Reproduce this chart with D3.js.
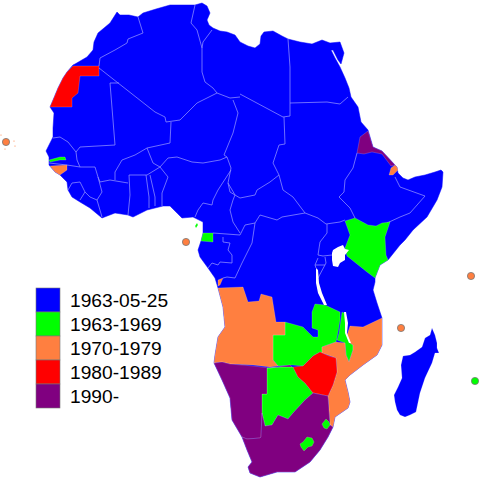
<!DOCTYPE html>
<html>
<head>
<meta charset="utf-8">
<script src="https://cdn.jsdelivr.net/npm/d3@7"></script>
<style>
html, body { margin: 0; padding: 0; background: #fff; }
svg { display: block; }
</style>
</head>
<body>
<svg id="map" width="480" height="480"></svg>
<script>
// legend
var periods = ["1963-05-25", "1963-1969", "1970-1979", "1980-1989", "1990-"];
var periodColors = ["#0000ff", "#00ff00", "#ff7f40", "#ff0000", "#800080"];

// outlines, in map grid units
var coastline = [[117,12],[120,15],[129,15],[138,17],[143,13],[156,9],[170,5],[185,5],[195,5],[202,3],[207,6],[210,13],[207,20],[209,25],[213,28],[220,31],[227,32],[235,35],[240,42],[248,46],[255,48],[260,44],[261,36],[264,32],[273,31],[282,36],[288,39],[300,42],[312,44],[322,40],[330,43],[340,42],[344,53],[341,64],[338,60],[333,50],[331,50],[335,58],[340,67],[345,78],[349,88],[351,97],[358,107],[361,122],[368,130],[373,147],[382,151],[395,165],[397,167],[398,173],[403,178],[408,180],[415,177],[425,175],[435,172],[441,170],[443,172],[442,187],[437,200],[427,217],[413,230],[405,240],[400,245],[388,260],[380,265],[375,278],[375,282],[373,290],[377,303],[382,318],[382,345],[377,355],[363,365],[350,375],[345,380],[348,392],[350,402],[348,408],[335,417],[333,427],[328,437],[320,450],[310,462],[295,472],[277,472],[260,477],[250,473],[248,467],[252,462],[247,450],[242,437],[232,420],[230,398],[222,380],[214,363],[215,355],[218,337],[225,327],[223,307],[218,288],[215,278],[208,268],[200,257],[198,250],[201,241],[203,233],[203,222],[193,217],[182,218],[177,213],[170,206],[163,206],[147,210],[133,217],[128,215],[115,213],[102,218],[96,213],[90,208],[80,202],[72,197],[68,190],[67,182],[60,175],[55,172],[49,165],[49,157],[46,151],[50,143],[53,137],[53,128],[54,113],[50,107],[53,100],[58,88],[63,78],[67,72],[73,65],[75,64],[87,57],[93,50],[94,42],[98,33],[110,23]];
var madagascar = [[432,328],[435,335],[437,343],[437,348],[439,353],[435,353],[432,363],[425,378],[420,393],[416,412],[410,415],[405,417],[400,415],[397,410],[395,402],[394,395],[398,387],[402,378],[401,365],[403,356],[410,355],[415,352],[422,347],[425,338],[430,335]];

var westernSahara = [[73,66],[99,66],[99,76],[80,76],[78,93],[72,98],[72,107],[50,107],[53,100],[58,88],[63,78],[67,72]];
var zimbabwe = [[293,367],[303,366],[313,356],[320,352],[329,356],[336,358],[337,372],[333,385],[328,396],[318,394],[313,393],[305,383],[298,377]];
var kenya = [[345,221],[355,218],[368,225],[376,226],[382,223],[390,222],[385,237],[386,255],[388,260],[380,265],[375,278],[367,272],[347,256],[345,248],[350,235]];
var zambia = [[285,322],[303,327],[313,337],[318,337],[318,330],[312,328],[312,312],[315,304],[325,305],[340,312],[340,320],[338,332],[336,342],[322,347],[322,353],[320,352],[313,356],[303,366],[292,365],[278,366],[273,360],[273,335],[285,335]];
var malawi = [[342,312],[344,313],[347,323],[346,333],[350,343],[353,345],[353,350],[349,362],[346,355],[345,343],[337,340],[339,333]];
var botswana = [[267,368],[281,367],[293,367],[298,377],[305,383],[313,393],[305,400],[293,413],[288,419],[278,415],[272,425],[265,426],[262,413],[262,394],[267,394]];
var lesotho = [[307,437],[312,438],[314,442],[312,446],[308,447],[304,451],[301,447],[300,444],[303,442]];
var swaziland = [[326,419],[329,422],[330,425],[327,429],[324,428],[322,424]];
var eqGuinea = [[203,233],[213,233],[213,242],[201,241]];
var bioko = [[197,223],[198,225],[196,228],[195,226]];
var gambia = [[49,160],[60,157],[65,157],[66,160],[60,160],[50,162]];
var angola = [[218,288],[243,287],[248,302],[259,301],[261,294],[272,297],[276,322],[285,322],[285,335],[273,335],[273,360],[278,366],[270,367],[253,365],[230,364],[222,362],[214,363],[215,355],[218,337],[225,327],[223,307]];
var cabinda = [[218,280],[223,278],[220,285],[218,286]];
var mozambique = [[382,318],[382,345],[377,355],[363,365],[350,375],[345,380],[348,392],[350,402],[348,408],[335,417],[333,427],[330,425],[329,410],[328,396],[333,385],[337,372],[336,358],[322,353],[322,347],[336,342],[345,343],[346,355],[349,362],[353,350],[353,345],[350,343],[347,335],[350,326],[363,327]];
var guineaBissau = [[50,166],[67,165],[67,170],[60,175],[55,172]];
var djibouti = [[395,165],[397,167],[398,170],[393,175],[389,175],[391,168]];
var eritrea = [[368,131],[373,147],[382,151],[395,165],[391,166],[382,154],[372,152],[364,154],[357,153],[360,137]];
var namibia = [[214,363],[222,362],[230,364],[253,366],[270,368],[290,365],[292,367],[281,367],[267,368],[267,394],[262,394],[262,413],[261,437],[260,438],[247,439],[242,437],[232,420],[230,398],[222,380]];
var southAfrica = [[262,413],[265,426],[272,425],[278,415],[288,419],[293,413],[305,400],[313,393],[328,396],[329,410],[330,425],[333,427],[328,437],[320,450],[310,462],[295,472],[277,472],[260,477],[250,473],[248,467],[252,462],[247,450],[242,437],[247,439],[260,438],[261,437]];

// member countries drawn over the blue continent, with their period index
var memberShapes = [
  [madagascar, 0], [kenya, 1], [zambia, 1], [malawi, 1], [botswana, 1], [eqGuinea, 1], [bioko, 1], [gambia, 1],
  [angola, 2], [cabinda, 2], [mozambique, 2], [guineaBissau, 2], [djibouti, 2],
  [westernSahara, 3], [zimbabwe, 3],
  [eritrea, 4], [namibia, 4], [southAfrica, 4],
  [lesotho, 1], [swaziland, 1]
];

// small island states shown as dots
var islands = [[6,142,2], [186,242,2], [401,328,2], [471,276,2], [475,381,1]];
var capeVerdeSpecks = [[1,135],[14,141],[5,149],[15,146]];

var lakes = [
  [[332,253],[333,250],[338,247],[343,245],[345,249],[349,250],[345,255],[345,260],[340,263],[338,267],[333,266],[332,260]],
  [[316,268],[318,270],[319,283],[322,293],[327,305],[324,305],[318,293],[316,283]],
  [[344,312],[346,312],[348,323],[347,333],[351,343],[349,343],[345,333],[345,323]]
];

var borders = [
  [[138,17],[143,33],[128,39],[127,43],[115,50],[100,58],[99,66]],
  [[99,68],[155,112],[165,117],[166,122],[180,120],[197,103],[217,93],[230,98],[240,97]],
  [[195,5],[191,23],[197,30],[202,48],[202,72],[205,82],[213,88],[217,93]],
  [[212,30],[203,42],[202,48]],
  [[119,83],[110,83],[115,145],[80,147],[76,152],[68,142],[60,137],[53,138]],
  [[171,122],[170,143],[147,148],[135,155],[122,160],[115,172],[115,180]],
  [[76,152],[77,160],[80,167],[95,167],[98,177],[100,182],[110,180],[128,183]],
  [[49,163],[67,165],[80,167]],
  [[98,177],[102,192],[97,200],[102,217]],
  [[97,200],[90,197],[85,192],[80,200]],
  [[68,190],[72,183],[80,182],[85,192]],
  [[147,148],[153,163],[160,167],[147,175],[129,175],[130,195],[128,215]],
  [[146,175],[149,197],[149,208]],
  [[150,175],[155,197],[155,206]],
  [[160,167],[168,177],[162,193],[162,206]],
  [[160,167],[168,158],[177,157],[192,162],[203,163],[220,160],[227,157]],
  [[233,100],[238,113],[233,133],[224,155],[227,157],[231,168],[228,183],[235,195],[233,200],[230,210],[233,222],[240,233]],
  [[231,170],[218,190],[213,200],[212,205],[203,203],[198,210],[195,217]],
  [[213,233],[240,235],[245,225],[255,223]],
  [[223,237],[223,242],[230,243],[228,250],[232,255],[232,263],[220,262],[218,265],[212,263],[208,268]],
  [[255,223],[252,243],[242,263],[235,278],[227,277],[223,278]],
  [[240,94],[283,117],[290,116],[290,103]],
  [[288,39],[290,67],[290,103],[327,102],[340,104],[348,97]],
  [[284,117],[285,144],[279,145],[273,163],[279,175],[283,190],[293,197],[305,213],[318,218],[326,224],[340,222],[345,220]],
  [[279,175],[270,182],[257,190],[255,195],[240,198],[230,192],[228,183]],
  [[255,223],[260,215],[277,220],[282,217],[305,213]],
  [[327,224],[327,233],[320,242],[318,255],[323,256],[332,255]],
  [[325,257],[326,263],[318,278]],
  [[318,258],[315,265],[316,268]],
  [[315,265],[325,265]],
  [[357,153],[353,168],[345,180],[344,192],[339,197],[350,208],[355,218]],
  [[395,177],[400,187],[425,196],[410,213],[400,217],[387,223]]
];

var svg = d3.select("#map");
var path = d3.geoPath(d3.geoIdentity());

function polygon(points) {
  return { type: "Polygon", coordinates: [points.concat([points[0]])] };
}

// continent first, everything else sits on top of it
svg.append("path")
  .datum(polygon(coastline))
  .attr("d", path)
  .attr("fill", periodColors[0])
  .attr("stroke", periodColors[0])
  .attr("stroke-width", 0.5)
  .attr("stroke-linejoin", "round");

svg.append("g")
  .selectAll("path")
  .data(borders)
  .join("path")
  .attr("d", function (d) { return path({ type: "LineString", coordinates: d }); })
  .attr("fill", "none")
  .attr("stroke", "#8a8aff")
  .attr("stroke-width", 0.8)
  .attr("stroke-linejoin", "round");

svg.append("g")
  .selectAll("path")
  .data(memberShapes)
  .join("path")
  .attr("d", function (d) { return path(polygon(d[0])); })
  .attr("fill", function (d) { return periodColors[d[1]]; })
  .attr("stroke", "#fff")
  .attr("stroke-opacity", 0.3)
  .attr("stroke-width", 0.6)
  .attr("stroke-linejoin", "round");

svg.append("g")
  .selectAll("path")
  .data(lakes)
  .join("path")
  .attr("d", function (d) { return path(polygon(d)); })
  .attr("fill", "#fff");

svg.append("g")
  .selectAll("circle")
  .data(capeVerdeSpecks)
  .join("circle")
  .attr("cx", function (d) { return d[0]; })
  .attr("cy", function (d) { return d[1]; })
  .attr("r", 0.6)
  .attr("fill", periodColors[2]);

svg.append("g")
  .selectAll("circle")
  .data(islands)
  .join("circle")
  .attr("cx", function (d) { return d[0]; })
  .attr("cy", function (d) { return d[1]; })
  .attr("r", 3.6)
  .attr("fill", function (d) { return periodColors[d[2]]; })
  .attr("stroke", "#777")
  .attr("stroke-width", 0.8);

// legend
var legendY = d3.scaleBand().domain(periods).range([288, 408]);

var legend = svg.append("g")
  .selectAll("g")
  .data(periods)
  .join("g");

legend.append("rect")
  .attr("x", 36)
  .attr("y", function (d) { return legendY(d); })
  .attr("width", 24)
  .attr("height", legendY.bandwidth())
  .attr("fill", function (d, i) { return periodColors[i]; })
  .attr("stroke", "#777")
  .attr("stroke-width", 0.6);

legend.append("text")
  .attr("x", 70)
  .attr("y", function (d) { return legendY(d) + 19; })
  .attr("font-family", "'Liberation Sans', Arial, sans-serif")
  .attr("font-size", 19.2)
  .attr("fill", "#000")
  .text(function (d) { return d; });
</script>
</body>
</html>
